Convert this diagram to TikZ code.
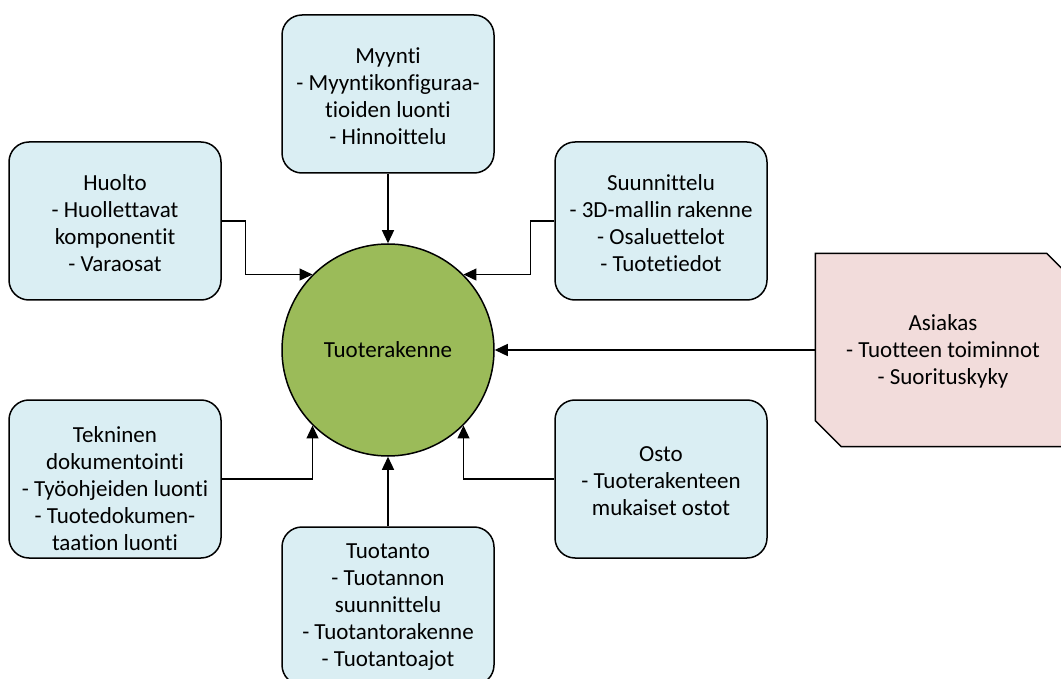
\documentclass[tikz,border=0pt]{standalone}
\usepackage{fontspec}
\setmainfont[Ligatures=NoCommon]{Carlito}
\usetikzlibrary{arrows.meta}
\definecolor{paleblue}{HTML}{DAEEF3}
\definecolor{leafgreen}{HTML}{9BBB59}
\definecolor{palerose}{HTML}{F2DCDB}
\begin{document}
\begin{tikzpicture}[x=1pt,y=-1pt,
  txt/.style={font=\fontsize{23}{27}\selectfont, align=center, text=black},
  area/.style={draw=black, line width=1.5pt, fill=paleblue, rounded corners=20pt,
    minimum width=212pt, minimum height=158pt, inner sep=0pt},
  feed/.style={line width=1.3pt, -{Triangle[length=13pt,width=12pt]}}
]
\useasboundingbox (0,0) rectangle (1061,679);
\clip (0,0) rectangle (1061,679);

% central product structure
\node[circle, draw=black, line width=1.5pt, fill=leafgreen, minimum size=212pt, inner sep=0pt, txt]
  (core) at (388,350) {Tuoterakenne};

% surrounding functions
\node[area] (myynti) at (388,94) {};
\node[txt] (myyntitxt) at (388,96) {Myynti\\- Myyntikonfiguraa-\\tioiden luonti\\- Hinnoittelu};

\node[area] (huolto) at (115,221) {};
\node[txt] (huoltotxt) at (115,223) {Huolto\\- Huollettavat\\komponentit\\- Varaosat};

\node[area] (suun) at (661,221) {};
\node[txt] (suuntxt) at (661,223) {Suunnittelu\\- 3D-mallin rakenne\\- Osaluettelot\\- Tuotetiedot};

\node[area] (tek) at (115,479) {};
\node[txt] (tektxt) at (115,489) {Tekninen\\dokumentointi\\- Työohjeiden luonti\\- Tuotedokumen-\\taation luonti};

\node[area] (osto) at (661,479) {};
\node[txt] (ostotxt) at (661,481) {Osto\\- Tuoterakenteen\\mukaiset ostot};

\node[area] (tuot) at (388,606) {};
\node[txt] (tuottxt) at (388,607) {Tuotanto\\- Tuotannon\\suunnittelu\\- Tuotantorakenne\\- Tuotantoajot};

% customer: box with two cut corners
\node[minimum width=257pt, minimum height=193pt, inner sep=0pt] (asiakas) at (944,350) {};
\fill[palerose, draw=black, line width=1.5pt, line join=miter]
  (asiakas.north west) -- ([xshift=-26pt]asiakas.north east)
  -- ([yshift=-26pt]asiakas.north east) -- (asiakas.south east)
  -- ([xshift=26pt]asiakas.south west) -- ([yshift=26pt]asiakas.south west) -- cycle;
\node[txt] (asiakastxt) at (943,351) {Asiakas\\- Tuotteen toiminnot\\- Suorituskyky};

% connectors
\draw[feed] (myynti.south) -- (core.north);
\draw[feed] (tuot.north) -- (core.south);
\draw[feed] (asiakas.west) -- (core.east);
\draw[feed] (huolto.east) -- ++(24,0) |- (core.135);
\draw[feed] (suun.west) -- ++(-24,0) |- (core.45);
\draw[feed] (tek.east) -| (core.225);
\draw[feed] (osto.west) -| (core.-45);
\end{tikzpicture}
\end{document}
